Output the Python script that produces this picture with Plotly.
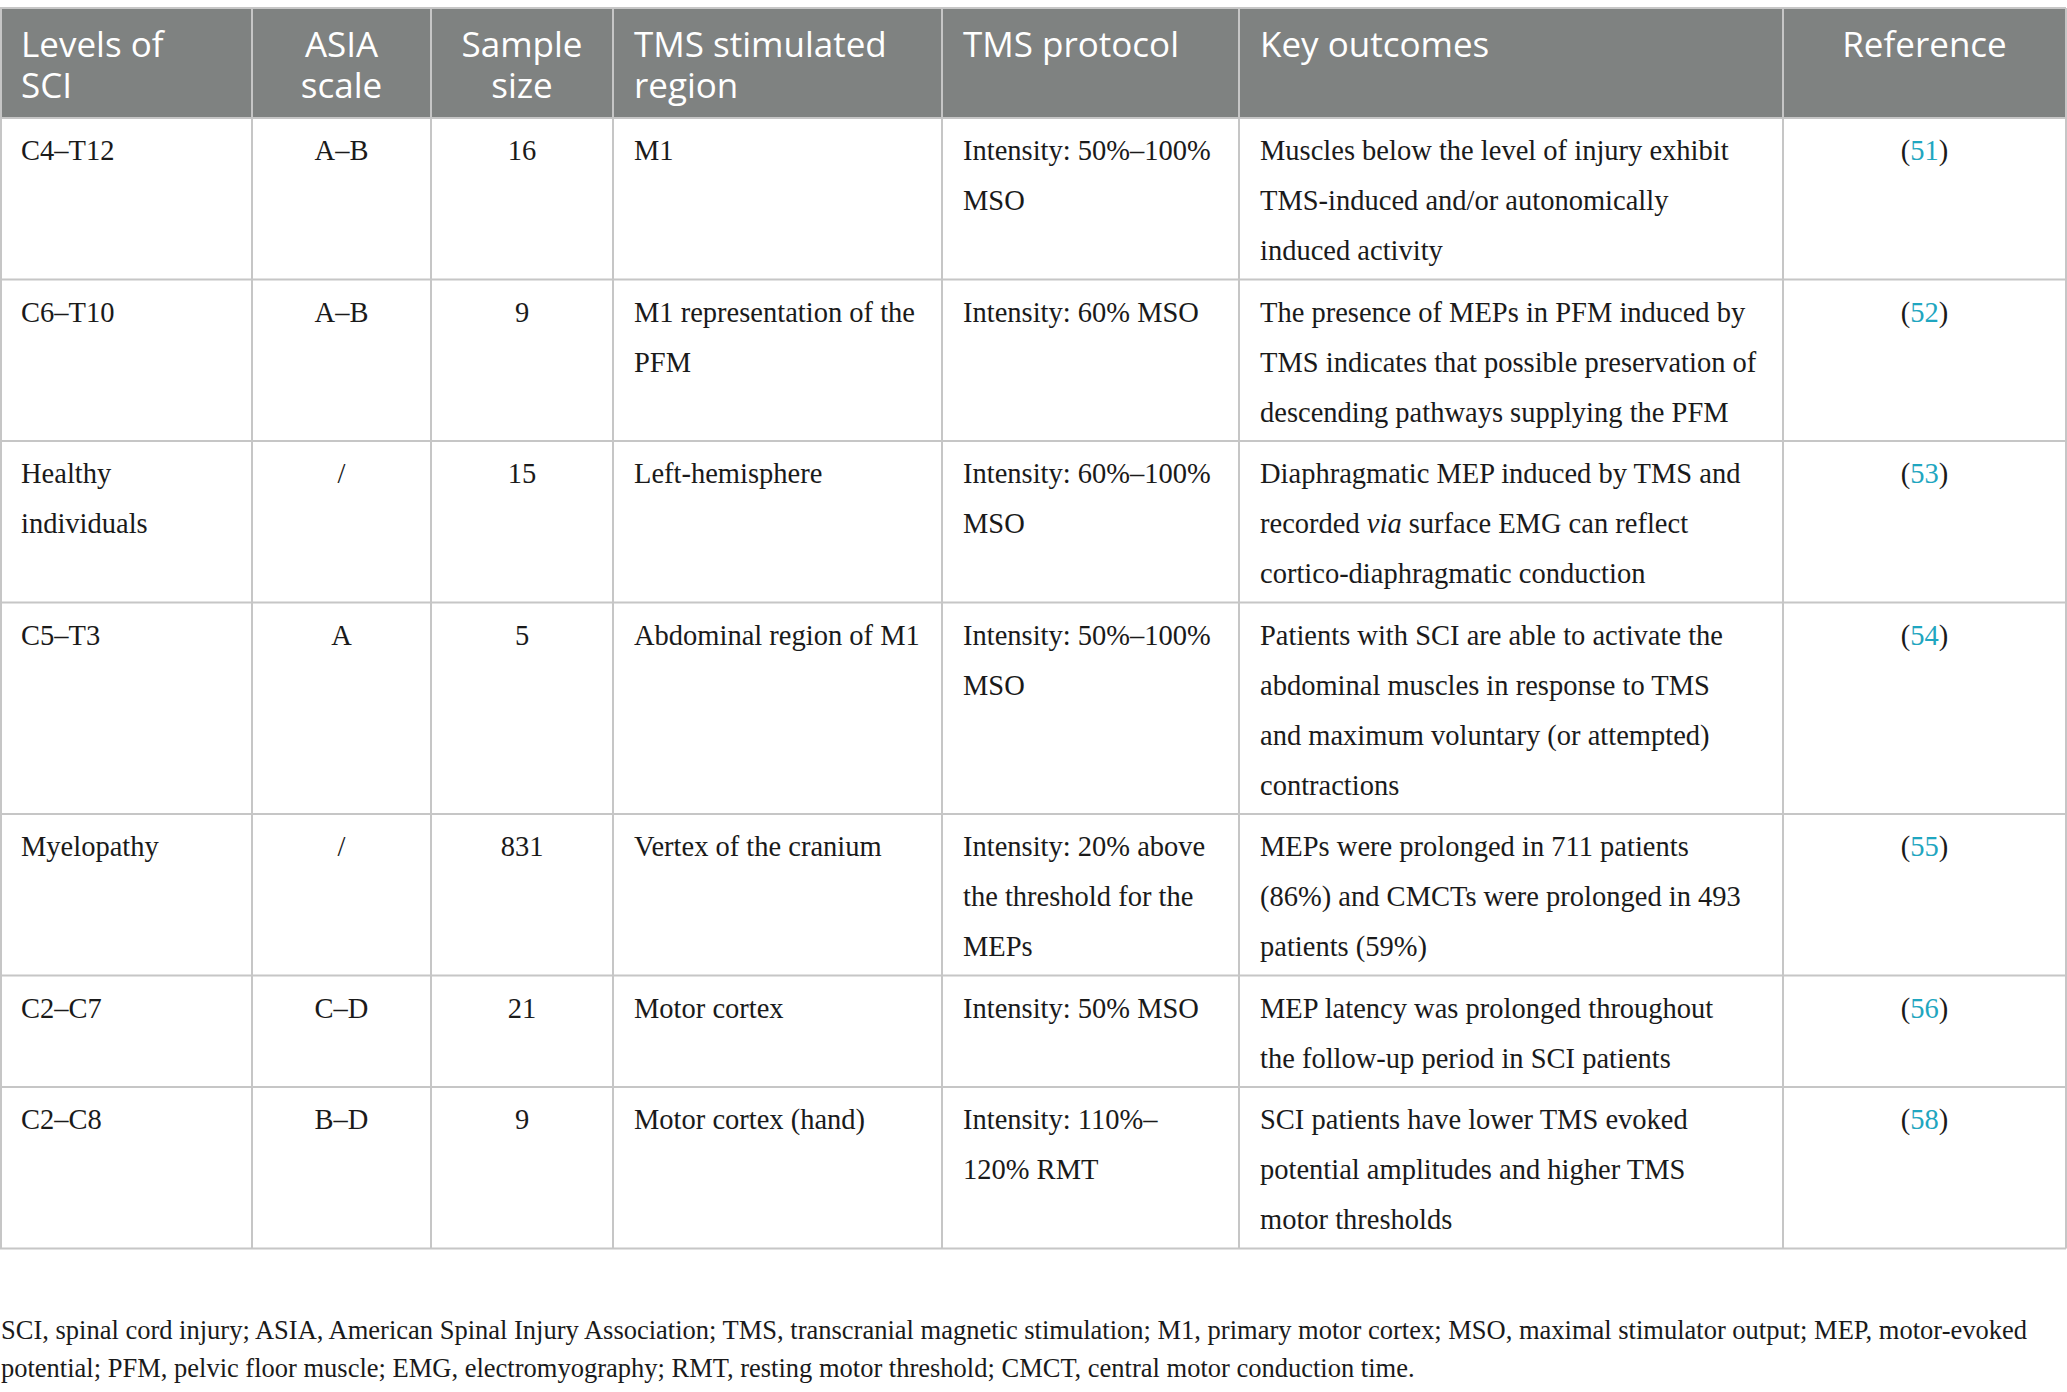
import plotly.graph_objects as go

# --- table content (one string per cell, <br> = line break as printed) ---
headers = ["Levels of<br>SCI", "ASIA<br>scale", "Sample<br>size", "TMS stimulated<br>region",
           "TMS protocol", "Key outcomes", "Reference"]

levels = ["C4–T12", "C6–T10", "Healthy<br>individuals", "C5–T3", "Myelopathy", "C2–C7", "C2–C8"]
asia = ["A–B", "A–B", "/", "A", "/", "C–D", "B–D"]
sample_size = ["16", "9", "15", "5", "831", "21", "9"]
region = ["M1", "M1 representation of the<br>PFM", "Left-hemisphere", "Abdominal region of M1",
          "Vertex of the cranium", "Motor cortex", "Motor cortex (hand)"]
protocol = ["Intensity: 50%–100%<br>MSO", "Intensity: 60% MSO", "Intensity: 60%–100%<br>MSO",
            "Intensity: 50%–100%<br>MSO", "Intensity: 20% above<br>the threshold for the<br>MEPs",
            "Intensity: 50% MSO", "Intensity: 110%–<br>120% RMT"]
outcomes = [
    "Muscles below the level of injury exhibit<br>TMS-induced and/or autonomically<br>induced activity",
    "The presence of MEPs in PFM induced by<br>TMS indicates that possible preservation of<br>descending pathways supplying the PFM",
    "Diaphragmatic MEP induced by TMS and<br>recorded <i>via</i> surface EMG can reflect<br>cortico-diaphragmatic conduction",
    "Patients with SCI are able to activate the<br>abdominal muscles in response to TMS<br>and maximum voluntary (or attempted)<br>contractions",
    "MEPs were prolonged in 711 patients<br>(86%) and CMCTs were prolonged in 493<br>patients (59%)",
    "MEP latency was prolonged throughout<br>the follow-up period in SCI patients",
    "SCI patients have lower TMS evoked<br>potential amplitudes and higher TMS<br>motor thresholds",
]
references = ["51", "52", "53", "54", "55", "56", "58"]

footnote = ("SCI, spinal cord injury; ASIA, American Spinal Injury Association; TMS, transcranial magnetic "
            "stimulation; M1, primary motor cortex; MSO, maximal stimulator output; MEP, motor-evoked<br>"
            "potential; PFM, pelvic floor muscle; EMG, electromyography; RMT, resting motor threshold; "
            "CMCT, central motor conduction time.")

# --- layout settings ---
W, H = 2067, 1392
col_widths = [252, 179, 182, 329, 297, 544, 283]
col_align = ["left", "center", "center", "left", "left", "left", "center"]
PAD_X = 21
TABLE_TOP = 8
HEADER_H = 110
LINE_H = 50
ROW_PAD = 11.5
BODY_FS = 28.5
HEAD_FS = 35
FOOT_FS = 26.5
HEAD_BG = "#7f8281"
GRID = "#c6c6c6"
LINK = "#1fa6c0"
BODY_FONT = "Liberation Serif"
HEAD_FONT = "Open Sans"

ref_cells = [f'(<span style="color:{LINK}">{r}</span>)' for r in references]
columns = [levels, asia, sample_size, region, protocol, outcomes, ref_cells]

edges = [0]
for w in col_widths:
    edges.append(edges[-1] + w)
edges[-1] = W - 1

n_rows = len(levels)
row_lines = [max(len(col[i].split("<br>")) for col in columns) for i in range(n_rows)]
row_tops = [TABLE_TOP + HEADER_H]
for n in row_lines:
    row_tops.append(row_tops[-1] + LINE_H * n + ROW_PAD)
table_bottom = row_tops[-1]

fig = go.Figure()


def add_column_text(cells, tops, col, fs, font, color, first_base, line_step):
    xs, ys, ts = [], [], []
    align = col_align[col]
    x = edges[col] + PAD_X if align == "left" else (edges[col] + edges[col + 1]) / 2
    for cell, top in zip(cells, tops):
        for k, line in enumerate(cell.split("<br>")):
            baseline = top + first_base + k * line_step
            xs.append(x)
            ys.append(baseline - 0.75 * fs)  # 'bottom' text hangs 0.75em to baseline
            ts.append(line)
    fig.add_trace(go.Scatter(
        x=xs, y=ys, text=ts, mode="text",
        textposition="bottom right" if align == "left" else "bottom center",
        textfont=dict(family=font, size=fs, color=color),
        hoverinfo="skip", showlegend=False, cliponaxis=False,
    ))


# header band
fig.add_shape(type="rect", x0=0, x1=edges[-1], y0=TABLE_TOP, y1=TABLE_TOP + HEADER_H,
              fillcolor=HEAD_BG, line_width=0, layer="below")

# grid lines
for y in [TABLE_TOP] + row_tops:
    fig.add_shape(type="line", x0=0, x1=edges[-1], y0=y, y1=y,
                  line=dict(color=GRID, width=2))
for x in edges:
    fig.add_shape(type="line", x0=max(x, 1), x1=max(x, 1), y0=TABLE_TOP, y1=table_bottom,
                  line=dict(color=GRID, width=2))

# header text
for c, h in enumerate(headers):
    add_column_text([h], [TABLE_TOP], c, HEAD_FS, HEAD_FONT, "white", 49, 41)

# body text
for c, col in enumerate(columns):
    add_column_text(col, row_tops[:-1], c, BODY_FS, BODY_FONT, "#1a1a1a", 42, LINE_H)

# footnote
foot_lines = footnote.split("<br>")
fig.add_trace(go.Scatter(
    x=[1] * len(foot_lines),
    y=[table_bottom + 90 + k * 38 - 0.75 * FOOT_FS for k in range(len(foot_lines))],
    text=foot_lines, mode="text", textposition="bottom right",
    textfont=dict(family=BODY_FONT, size=FOOT_FS, color="#1a1a1a"),
    hoverinfo="skip", showlegend=False, cliponaxis=False,
))

fig.update_layout(
    width=W, height=H,
    margin=dict(l=0, r=0, t=0, b=0),
    paper_bgcolor="white", plot_bgcolor="white",
    xaxis=dict(range=[0, W], visible=False, fixedrange=True),
    yaxis=dict(range=[H, 0], visible=False, fixedrange=True),
)

# drop the browser's default body margin so the figure sits at the page corner
fig.write_html("out.html", config={"displayModeBar": False},
               post_script="document.body.style.margin = '0';")
